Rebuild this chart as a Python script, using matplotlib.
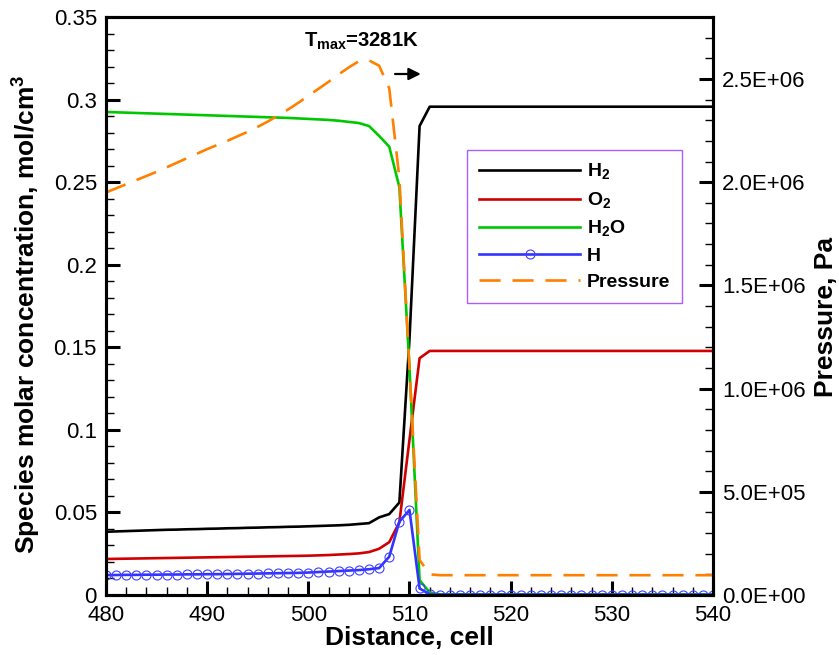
import numpy as np
import matplotlib
matplotlib.use("Agg")
import matplotlib.pyplot as plt
from matplotlib.ticker import MultipleLocator, FuncFormatter

plt.rcParams['font.family'] = ['Liberation Sans', 'DejaVu Sans']
plt.rcParams['mathtext.fontset'] = 'custom'
plt.rcParams['mathtext.rm'] = 'Liberation Sans'
plt.rcParams['mathtext.bf'] = 'Liberation Sans:bold'

# Cell index along the domain
cells = np.arange(480, 541)

# Species molar concentrations, mol/cm^3 (one value per cell)
h2 = [0.0383, 0.0385, 0.0387, 0.0389, 0.0391, 0.0393, 0.0395, 0.0396, 0.0398, 0.0399,
      0.0401, 0.0402, 0.0404, 0.0405, 0.0407, 0.0408, 0.0410, 0.0411, 0.0413, 0.0414,
      0.0416, 0.0418, 0.0420, 0.0422, 0.0425, 0.0430, 0.0435, 0.0470, 0.0490, 0.0560,
      0.1550, 0.2840, 0.2957] + [0.2957] * 28
o2 = [0.0218, 0.0219, 0.0220, 0.0221, 0.0222, 0.0223, 0.0224, 0.0225, 0.0226, 0.0227,
      0.0228, 0.0229, 0.0230, 0.0231, 0.0232, 0.0233, 0.0234, 0.0235, 0.0236, 0.0237,
      0.0238, 0.0240, 0.0242, 0.0245, 0.0248, 0.0252, 0.0260, 0.0280, 0.0320, 0.0440,
      0.0940, 0.1434, 0.1478] + [0.1478] * 28
h2o = [0.2925, 0.2923, 0.2921, 0.2919, 0.2917, 0.2915, 0.2913, 0.2911, 0.2909, 0.2907,
       0.2905, 0.2903, 0.2901, 0.2899, 0.2897, 0.2895, 0.2893, 0.2891, 0.2889, 0.2886,
       0.2883, 0.2880, 0.2877, 0.2872, 0.2865, 0.2858, 0.2840, 0.2780, 0.2715, 0.2470,
       0.1380, 0.0090, 0.0015] + [0.0004] * 28
h = [0.0121, 0.0121, 0.0122, 0.0122, 0.0123, 0.0123, 0.0124, 0.0124, 0.0125, 0.0125,
     0.0126, 0.0126, 0.0127, 0.0128, 0.0129, 0.0130, 0.0131, 0.0132, 0.0133, 0.0134,
     0.0136, 0.0139, 0.0142, 0.0145, 0.0148, 0.0151, 0.0156, 0.0163, 0.0232, 0.0444,
     0.0515, 0.0040, 0.0004] + [0.0002] * 28

# Pressure, Pa
pressure = [1.950e6, 1.970e6, 1.990e6, 2.010e6, 2.030e6, 2.050e6, 2.072e6, 2.094e6, 2.116e6, 2.138e6,
            2.160e6, 2.180e6, 2.200e6, 2.222e6, 2.244e6, 2.268e6, 2.294e6, 2.322e6, 2.352e6, 2.384e6,
            2.418e6, 2.452e6, 2.486e6, 2.522e6, 2.556e6, 2.586e6, 2.590e6, 2.564e6, 2.455e6, 2.020e6,
            1.100e6, 1.700e5, 1.000e5] + [9.6e4] * 28

series_labels = [r'H$_\mathbf{2}$', r'O$_\mathbf{2}$', r'H$_\mathbf{2}$O', 'H', 'Pressure']
tmax_label = r'T$_\mathbf{max}$=3281K'

fig = plt.figure(figsize=(8.39, 6.55), dpi=100)
ax = fig.add_axes([0.1263, 0.0916, 0.7235, 0.8824])
ax2 = ax.twinx()

lw = 1.9
l_h2, = ax.plot(cells, h2, color='black', lw=lw, zorder=3)
l_o2, = ax.plot(cells, o2, color='#d00000', lw=lw, zorder=3)
l_h2o, = ax.plot(cells, h2o, color='#00c800', lw=lw, zorder=3)
l_h, = ax.plot(cells, h, color='#3333ff', lw=lw, marker='o', markersize=6.5,
               markerfacecolor='none', markeredgecolor='#4040ff', markeredgewidth=0.8, zorder=4)
l_p, = ax2.plot(cells, pressure, color='#ff8000', lw=lw, dashes=(8, 4.5))

ax.set_xlim(480, 540)
ax.set_ylim(0, 0.35)
ax2.set_ylim(0, 2.8e6)

ax.xaxis.set_major_locator(MultipleLocator(10))
ax.xaxis.set_minor_locator(MultipleLocator(2))
ax.yaxis.set_major_locator(MultipleLocator(0.05))
ax.yaxis.set_minor_locator(MultipleLocator(0.01))
ax2.yaxis.set_major_locator(MultipleLocator(5e5))
ax2.yaxis.set_minor_locator(MultipleLocator(1e5))

ax.yaxis.set_major_formatter(FuncFormatter(lambda v, p: '0' if abs(v) < 1e-9 else f'{v:g}'))
ax2.yaxis.set_major_formatter(FuncFormatter(lambda v, p: f'{v:.1E}'))

for a in (ax, ax2):
    for s in a.spines.values():
        s.set_linewidth(2.2)
    a.tick_params(which='major', direction='in', length=10, width=2.2, labelsize=16, pad=6.5)
    a.tick_params(which='minor', direction='in', length=6, width=1.0)
ax.tick_params(axis='y', which='both', right=False)
ax.tick_params(axis='x', which='both', top=False, pad=7)

ax.set_xlabel('Distance, cell', fontsize=19, fontweight='bold')
ax.set_ylabel(r'Species molar concentration, mol/cm$^\mathbf{3}$', fontsize=19,
              fontweight='bold')
ax2.set_ylabel('Pressure, Pa', fontsize=19, fontweight='bold')
ax.xaxis.set_label_coords(0.5, -0.053)
ax.yaxis.set_label_coords(-0.105, 0.486)
ax2.yaxis.set_label_coords(1.166, 0.481)

ax.text(499.6, 0.332, tmax_label, fontsize=14.6, fontweight='bold', va='baseline', ha='left')
ax.annotate('', xy=(511.4, 0.3155), xytext=(508.3, 0.3155),
            arrowprops=dict(arrowstyle='-|>', mutation_scale=18, lw=1.6, color='black'))

leg = ax2.legend([l_h2, l_o2, l_h2o, l_h, l_p], series_labels,
                 loc='upper left', bbox_to_anchor=(0.5947, 0.770),
                 frameon=True, fancybox=False, numpoints=1,
                 handlelength=5.2, handletextpad=0.35, labelspacing=0.42,
                 borderpad=0.62, borderaxespad=0, prop={'weight': 'bold', 'size': 14})
leg.get_frame().set_edgecolor('#9933ff')
leg.get_frame().set_linewidth(1.0)

fig.savefig('out.png', dpi=100)
